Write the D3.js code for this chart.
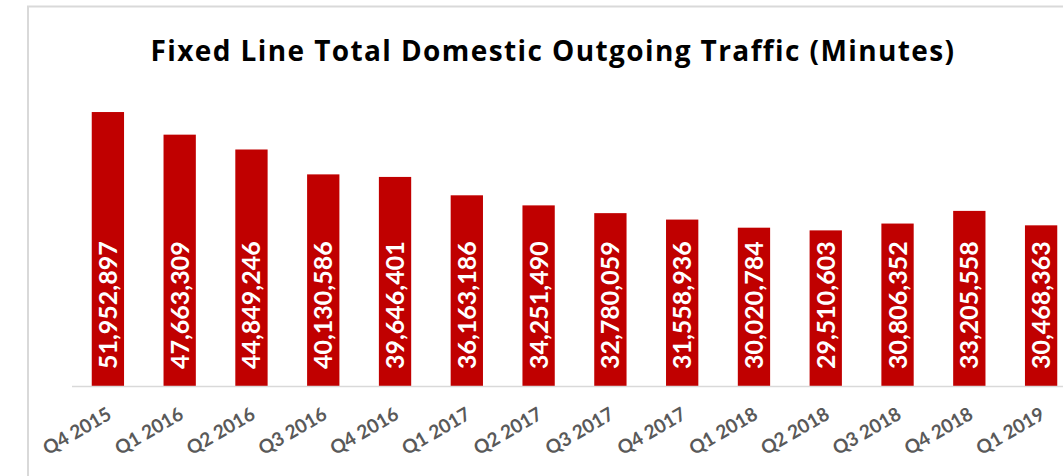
<!DOCTYPE html>
<html>
<head>
<meta charset="utf-8">
<script src="https://cdn.jsdelivr.net/npm/d3@7"></script>
<style>
  html, body { margin: 0; padding: 0; background: #fff; overflow: hidden; }
  text { font-family: Lato, "Open Sans", sans-serif; }
</style>
</head>
<body>
<div id="viz"></div>
<script>
const quarters = ["Q4 2015", "Q1 2016", "Q2 2016", "Q3 2016", "Q4 2016", "Q1 2017", "Q2 2017",
  "Q3 2017", "Q4 2017", "Q1 2018", "Q2 2018", "Q3 2018", "Q4 2018", "Q1 2019"];
const minutes = [51952897, 47663309, 44849246, 40130586, 39646401, 36163186, 34251490,
  32780059, 31558936, 30020784, 29510603, 30806352, 33205558, 30468363];
const chartTitle = "Fixed Line Total Domestic Outgoing Traffic (Minutes)";

const width = 1063;
const height = 476;

const svg = d3.select("#viz")
  .append("svg")
  .attr("width", width)
  .attr("height", height);

// chart frame (runs off the right and bottom edge like the screenshot)
svg.append("rect")
  .attr("x", 28)
  .attr("y", 6.5)
  .attr("width", 1100)
  .attr("height", 500)
  .attr("fill", "none")
  .attr("stroke", "#d9d9d9")
  .attr("stroke-width", 2);

svg.append("text")
  .attr("x", 553)
  .attr("y", 61)
  .attr("text-anchor", "middle")
  .style("font-family", "'Open Sans', sans-serif")
  .style("font-size", "28px")
  .style("font-weight", 700)
  .style("letter-spacing", "1.4px")
  .attr("fill", "#000")
  .text(chartTitle);

const x = d3.scaleBand()
  .domain(quarters)
  .range([72, 1077])
  .paddingInner(0.55)
  .paddingOuter(0.275);

const y = d3.scaleLinear()
  .domain([0, 60000000])
  .range([386, 69.6]);

const fmt = d3.format(",");

svg.selectAll("rect.bar")
  .data(minutes)
  .enter()
  .append("rect")
  .attr("class", "bar")
  .attr("x", (d, i) => x(quarters[i]))
  .attr("y", d => y(d))
  .attr("width", x.bandwidth())
  .attr("height", d => y(0) - y(d))
  .attr("fill", "#c00000");

// baseline
svg.append("line")
  .attr("x1", 72)
  .attr("x2", width)
  .attr("y1", y(0) + 0.5)
  .attr("y2", y(0) + 0.5)
  .attr("stroke", "#d9d9d9")
  .attr("stroke-width", 1.5);

// value labels inside bars
svg.selectAll("text.val")
  .data(minutes)
  .enter()
  .append("text")
  .attr("class", "val")
  .attr("transform", (d, i) => `translate(${x(quarters[i]) + x.bandwidth() / 2 + 9},${y(0) - 17}) rotate(-90)`)
  .attr("font-size", 25)
  .attr("font-weight", 700)
  .attr("fill", "#fff")
  .text(d => fmt(d));

// category labels
svg.selectAll("text.cat")
  .data(quarters)
  .enter()
  .append("text")
  .attr("class", "cat")
  .attr("text-anchor", "end")
  .attr("transform", d => `translate(${x(d) + x.bandwidth() / 2 + 5},${y(0) + 32}) rotate(-30)`)
  .attr("font-size", 19)
  .attr("font-weight", 700)
  .attr("fill", "#595959")
  .text(d => d);
</script>
</body>
</html>
